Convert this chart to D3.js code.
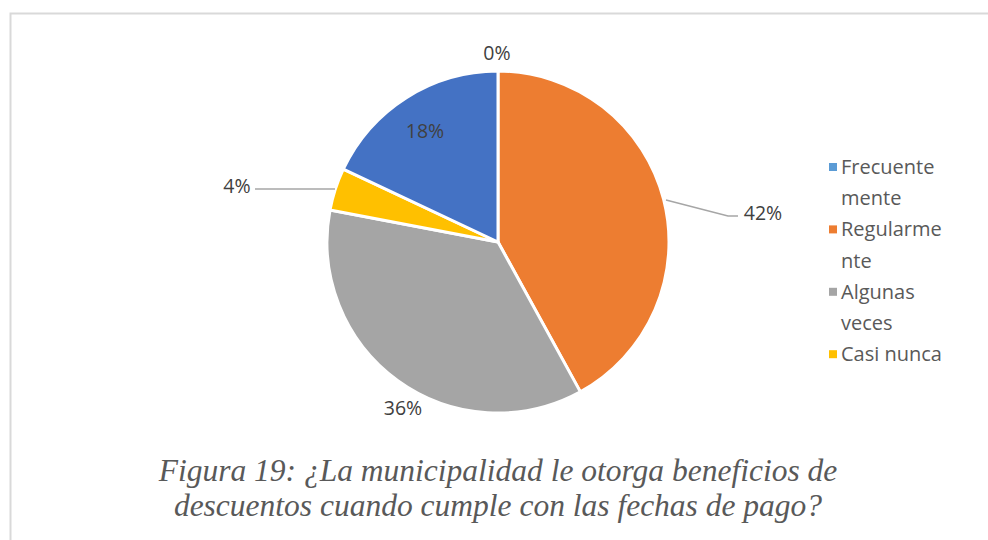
<!DOCTYPE html>
<html>
  <head>
    <meta charset="utf-8">
    <title>Figura 19</title>
    <script src="https://d3js.org/d3.v7.min.js"></script>
    <style>
      body { margin: 0; background: #fff; }
      #chart { display: block; }
      .lbl { font-family: "Open Sans", "Liberation Sans", sans-serif; font-size: 19.5px; fill: #404040; }
      .legend { font-family: "Open Sans", "Liberation Sans", sans-serif; font-size: 20px; fill: #595959; }
      .caption { font-family: "Liberation Serif", serif; font-style: italic; font-size: 31.5px; fill: #595959; }
    </style>
  </head>
  <body>
    <svg id="chart" width="988" height="540"></svg>
    <script>
      // data
      var categories = ["Frecuentemente", "Regularmente", "Algunas veces", "Casi nunca", "Nunca"];
      var values = [0, 42, 36, 4, 18];
      var colors = ["#5B9BD5", "#ED7D31", "#A5A5A5", "#FFC000", "#4472C4"];
      // legend only shows the first four entries (clipped in the original)
      var legendLines = [["Frecuente", "mente"], ["Regularme", "nte"], ["Algunas", "veces"], ["Casi nunca"]];
      var captionLines = ["Figura 19: ¿La municipalidad le otorga beneficios de",
                          "descuentos cuando cumple con las fechas de pago?"];

      var svg = d3.select("#chart");
      var cx = 498, cy = 242, r = 171;

      // frame
      svg.append("path")
        .attr("d", "M10.5,540 V13.5 H988")
        .attr("fill", "none")
        .attr("stroke", "#d9d9d9")
        .attr("stroke-width", 2);

      var pie = d3.pie().sort(null).value(function(d) { return d; });
      var arcs = pie(values);
      var arc = d3.arc().innerRadius(0).outerRadius(r);

      var g = svg.append("g").attr("transform", "translate(" + cx + "," + cy + ")");
      g.selectAll("path.slice")
        .data(arcs)
        .enter().append("path")
          .attr("class", "slice")
          .attr("d", arc)
          .attr("fill", function(d, i) { return colors[i]; })
          .attr("stroke", "#fff")
          .attr("stroke-width", 3)
          .attr("stroke-linejoin", "round");

      // label positions (Excel best fit), relative to pie centre
      var labelPos = [
        { x: -1, y: -189, anchor: "middle" },
        { x: 265, y: -29, anchor: "middle", line: [[168, -42], [230, -26], [240, -26]] },
        { x: -95, y: 166, anchor: "middle" },
        { x: -261, y: -56, anchor: "middle", line: [[-243, -53], [-163, -53]] },
        { x: -73, y: -111, anchor: "middle" }
      ];
      var fmt = function(v) { return d3.format(".0%")(v / 100); };

      g.selectAll("path.leader")
        .data(arcs.filter(function(d, i) { return labelPos[i].line; }))
        .enter().append("path")
          .attr("class", "leader")
          .attr("d", function(d) { return d3.line()(labelPos[d.index].line); })
          .attr("fill", "none")
          .attr("stroke", "#a6a6a6")
          .attr("stroke-width", 1.5);

      g.selectAll("text.lbl")
        .data(arcs)
        .enter().append("text")
          .attr("class", "lbl")
          .attr("x", function(d) { return labelPos[d.index].x; })
          .attr("y", function(d) { return labelPos[d.index].y; })
          .attr("dy", "0.35em")
          .attr("text-anchor", function(d) { return labelPos[d.index].anchor; })
          .text(function(d) { return fmt(d.data); });

      // legend
      var legendX = 829, legendY = 167, lineH = 31.2;
      var row = 0;
      legendLines.forEach(function(lines, i) {
        var y = legendY + row * lineH;
        svg.append("rect")
          .attr("x", legendX)
          .attr("y", y - 4)
          .attr("width", 8)
          .attr("height", 8)
          .attr("fill", colors[i]);
        var t = svg.append("text")
          .attr("class", "legend")
          .attr("x", legendX + 12)
          .attr("y", y)
          .attr("dy", "0.35em");
        lines.forEach(function(s, j) {
          t.append("tspan")
            .attr("x", legendX + 12)
            .attr("dy", j === 0 ? "0.35em" : lineH)
            .text(s);
        });
        row += lines.length;
      });

      // caption
      svg.selectAll("text.caption")
        .data(captionLines)
        .enter().append("text")
          .attr("class", "caption")
          .attr("x", 498)
          .attr("y", function(d, i) { return 481 + i * 35; })
          .attr("text-anchor", "middle")
          .text(function(d) { return d; });
    </script>
  </body>
</html>
